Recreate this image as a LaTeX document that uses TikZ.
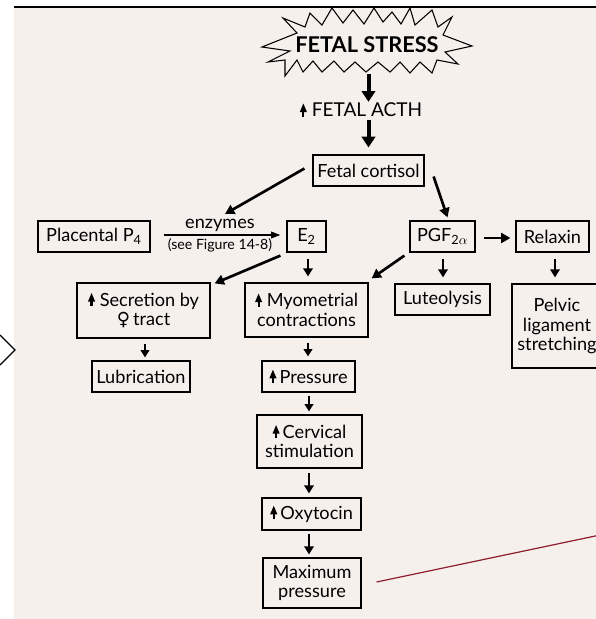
\documentclass[tikz,border=0pt]{standalone}
\usepackage{fontspec}
\setmainfont{Lato}
\newfontfamily\symfont{DejaVu Sans}
\usetikzlibrary{arrows.meta,calc}
\definecolor{paper}{RGB}{246,240,236}
\definecolor{redline}{RGB}{140,30,45}
\newcommand\uparr{\tikz[baseline=0pt,x=1pt,y=1pt]{\fill (-0.8,0) rectangle (0.8,4.5); \fill (-2.7,3.6) -- (2.7,3.6) -- (0,10) -- cycle;}}
\begin{document}
\begin{tikzpicture}[x=0.75pt,y=-0.75pt,
  txt/.style={font=\fontsize{13.6}{14.5}\selectfont},
  box/.style={draw, line width=0.9pt, fill=paper, align=center, inner sep=0pt, txt},
  sz/.style 2 args={minimum width={#1*0.75pt}, minimum height={#2*0.75pt}},
  bigarr/.style={line width=3pt, -{Triangle[length=8pt,width=10pt]}},
  arr/.style={line width=2pt, -{Triangle[length=7pt,width=7.5pt]}},
  midarr/.style={line width=2.2pt, -{Triangle[length=6pt,width=7pt]}},
  smallarr/.style={line width=1.9pt, -{Triangle[length=5.5pt,width=6.5pt]}},
  thinarr/.style={line width=1.1pt, -{Triangle[length=7pt,width=5pt]}}]
\clip (0,0) rectangle (596,619);
\fill[white] (0,0) rectangle (596,619);
\fill[paper] (14,7) rectangle (596,619);
\draw[line width=1.2pt] (14,7) -- (596,7);
\draw[line width=1pt] (0,335) -- (15,350) -- (0,365);
% starburst
\draw[fill=paper, line width=0.8pt, line join=miter]
 (262,47) -- (297,33) -- (283,18) -- (305,27) -- (310,13) -- (322,25) -- (332,8) -- (343,23)
 -- (353,10) -- (364,24) -- (374,8) -- (383,22) -- (392,12) -- (401,24) -- (410,8) -- (415,25)
 -- (432,10) -- (438,27) -- (452,17) -- (443,35) -- (472,46) -- (445,52) -- (458,64) -- (437,60)
 -- (432,73) -- (420,62) -- (410,73) -- (400,62) -- (390,72) -- (378,62) -- (366,72) -- (355,62)
 -- (344,72) -- (334,61) -- (322,72) -- (313,61) -- (303,72) -- (297,60) -- (285,76) -- (285,60)
 -- (268,62) -- (290,51) -- cycle;
\node[font=\bfseries\fontsize{16.3}{17}\selectfont, inner sep=0pt] (stress) at (367,45) {FETAL STRESS};
\node[font=\fontsize{14.3}{15}\selectfont, inner sep=0pt] (acth) at (361,110) {\uparr\ FETAL ACTH};
% boxes
\node[box, sz={111}{31}] (cortisol) at (368.5,170.5) {Fetal cortisol};
\node[box, sz={112}{31}] (p4) at (94,236.5) {Placental P\textsubscript{4}};
\node[box, sz={39}{31}] (e2) at (306.5,236.5) {E\textsubscript{2}};
\node[box, sz={65}{31}] (pgf) at (442.5,236.5) {PGF\textsubscript{2$\alpha$}};
\node[box, sz={73}{31}] (relaxin) at (552.5,236.5) {Relaxin};
\node[box, sz={133}{55}] (secr) at (143.5,310.5) {\uparr\ Secretion by\\{\symfont ♀}\,tract};
\node[box, sz={123}{54}] (myo) at (306.5,310) {\uparr\ Myometrial\\contractions};
\node[box, sz={95}{31}] (lute) at (442.5,299.5) {Luteolysis};
\node[box, sz={90}{84}] (pelvic) at (557,326) {Pelvic\\ligament\\stretching};
\node[box, sz={98}{31}] (lub) at (141,376.5) {Lubrication};
\node[box, sz={93}{31}] (press) at (308.5,376.5) {\uparr\,Pressure};
\node[box, sz={105}{53}] (cerv) at (309.5,441.5) {\uparr\,Cervical\\stimulation};
\node[box, sz={99}{32}] (oxy) at (311.5,514) {\uparr\,Oxytocin};
\node[box, sz={98}{50}] (maxp) at (312,583) {Maximum\\pressure};
% labels on enzymes arrow
\node[txt, inner sep=0pt] (enzl) at (220,225) {enzymes};
\node[font=\fontsize{10.6}{12}\selectfont, inner sep=0pt] (seel) at (220,245) {(see Figure 14-8)};
\coordinate (enzt) at (225,214);
\coordinate (redend) at (600,535);
% connectors
\draw[bigarr] ($(stress.south -| cortisol.north)+(0,21)$) -- ($(acth.north -| cortisol.north)+(0,-1)$);
\draw[bigarr] ($(acth.south -| cortisol.north)+(0,3)$) -- ($(cortisol.north)+(0,-7)$);
\draw[arr] ($(cortisol.west)+(-8,-2)$) -- (enzt);
\draw[arr] ($(cortisol.east)+(9,6)$) -- ($(pgf.north)+(5,-3)$);
\draw[thinarr] ($(p4.east)+(13,-1.5)$) -- ($(e2.west)+(-6,-1.5)$);
\draw[arr] ($(e2.south west)+(-6,3)$) -- ($(secr.north east)+(4,1)$);
\draw[arr] ($(pgf.south west)+(-5,3)$) -- ($(myo.north east)+(3,-4)$);
\draw[arr] ($(pgf.east)+(8,1.5)$) -- ($(relaxin.west)+(-5,1.5)$);
\draw[midarr] ($(e2.south)+(1.5,6)$) -- ($(e2.south |- myo.north)+(1.5,-6)$);
\draw[midarr] ($(pgf.south)+(0.5,6)$) -- ($(pgf.south |- lute.north)+(0.5,-6)$);
\draw[midarr] ($(relaxin.south)+(2.5,6)$) -- ($(relaxin.south |- pelvic.north)+(2.5,-6)$);
\draw[smallarr] ($(secr.south)+(1.5,5)$) -- ($(secr.south |- lub.north)+(1.5,-3)$);
\draw[smallarr] ($(myo.south)+(1.5,5)$) -- ($(myo.south |- press.north)+(1.5,-4)$);
\draw[smallarr] ($(press.south)+(0.5,3)$) -- ($(press.south |- cerv.north)+(0.5,-3)$);
\draw[midarr] ($(cerv.south)+(-0.5,4)$) -- ($(cerv.south |- oxy.north)+(-0.5,-4)$);
\draw[midarr] ($(oxy.south)+(-2.5,3)$) -- ($(oxy.south |- maxp.north)+(-2.5,-3)$);
\draw[redline, line width=0.9pt] ($(maxp.east)+(15,-1)$) -- (redend);
\end{tikzpicture}
\end{document}
